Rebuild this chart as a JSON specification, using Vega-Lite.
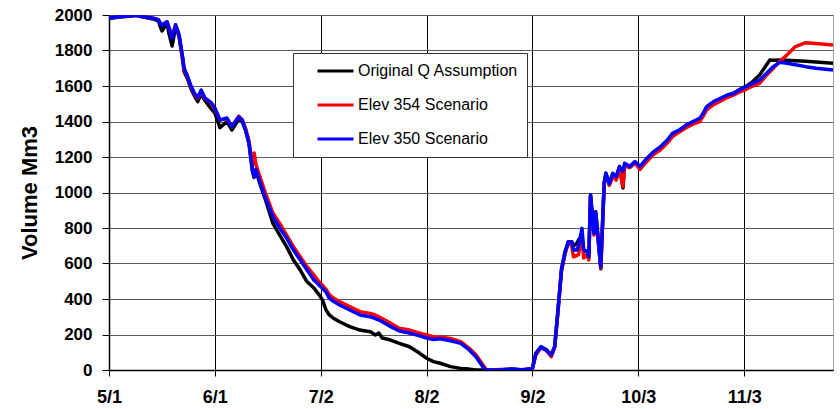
{
  "$schema": "https://vega.github.io/schema/vega-lite/v6.json",
  "width": 724,
  "height": 355,
  "autosize": "none",
  "padding": {"left": 109, "top": 15, "right": 7, "bottom": 39},
  "background": "white",
  "config": {
    "font": "Liberation Sans",
    "view": {"stroke": "#a6a6a6", "strokeWidth": 1},
    "axis": {"labelFont": "Liberation Sans", "titleFont": "Liberation Sans", "labelColor": "#000", "titleColor": "#000", "domainColor": "#000", "tickColor": "#000"}
  },
  "data": {
    "values": [
      {"date": "2005-05-01T00:00Z", "Original Q Assumption": 1980, "Elev 354 Scenario": 1985, "Elev 350 Scenario": 1985},
      {"date": "2005-05-04T00:00Z", "Original Q Assumption": 1988, "Elev 354 Scenario": 1990, "Elev 350 Scenario": 1990},
      {"date": "2005-05-07T00:00Z", "Original Q Assumption": 1993, "Elev 354 Scenario": 1995, "Elev 350 Scenario": 1995},
      {"date": "2005-05-09T00:00Z", "Original Q Assumption": 1998, "Elev 354 Scenario": 1998, "Elev 350 Scenario": 1998},
      {"date": "2005-05-11T00:00Z", "Original Q Assumption": 1988, "Elev 354 Scenario": 1990, "Elev 350 Scenario": 1990},
      {"date": "2005-05-14T00:00Z", "Original Q Assumption": 1978, "Elev 354 Scenario": 1982, "Elev 350 Scenario": 1982},
      {"date": "2005-05-15T12:00Z", "Original Q Assumption": 1965, "Elev 354 Scenario": 1972, "Elev 350 Scenario": 1972},
      {"date": "2005-05-16T00:00Z", "Original Q Assumption": 1935, "Elev 354 Scenario": 1955, "Elev 350 Scenario": 1955},
      {"date": "2005-05-16T12:00Z", "Original Q Assumption": 1910, "Elev 354 Scenario": 1945, "Elev 350 Scenario": 1940},
      {"date": "2005-05-18T00:00Z", "Original Q Assumption": 1955, "Elev 354 Scenario": 1962, "Elev 350 Scenario": 1962},
      {"date": "2005-05-18T12:00Z", "Original Q Assumption": 1900, "Elev 354 Scenario": 1935, "Elev 350 Scenario": 1930},
      {"date": "2005-05-19T12:00Z", "Original Q Assumption": 1825, "Elev 354 Scenario": 1880, "Elev 350 Scenario": 1870},
      {"date": "2005-05-20T12:00Z", "Original Q Assumption": 1935, "Elev 354 Scenario": 1945, "Elev 350 Scenario": 1945},
      {"date": "2005-05-21T12:00Z", "Original Q Assumption": 1880, "Elev 354 Scenario": 1887, "Elev 350 Scenario": 1890},
      {"date": "2005-05-22T12:00Z", "Original Q Assumption": 1755, "Elev 354 Scenario": 1765, "Elev 350 Scenario": 1770},
      {"date": "2005-05-23T00:00Z", "Original Q Assumption": 1680, "Elev 354 Scenario": 1690, "Elev 350 Scenario": 1700},
      {"date": "2005-05-24T00:00Z", "Original Q Assumption": 1640, "Elev 354 Scenario": 1650, "Elev 350 Scenario": 1655},
      {"date": "2005-05-25T00:00Z", "Original Q Assumption": 1585, "Elev 354 Scenario": 1596, "Elev 350 Scenario": 1600},
      {"date": "2005-05-26T00:00Z", "Original Q Assumption": 1545, "Elev 354 Scenario": 1555, "Elev 350 Scenario": 1560},
      {"date": "2005-05-27T00:00Z", "Original Q Assumption": 1512, "Elev 354 Scenario": 1531, "Elev 350 Scenario": 1535},
      {"date": "2005-05-28T00:00Z", "Original Q Assumption": 1555, "Elev 354 Scenario": 1570, "Elev 350 Scenario": 1577},
      {"date": "2005-05-29T00:00Z", "Original Q Assumption": 1520, "Elev 354 Scenario": 1532, "Elev 350 Scenario": 1535},
      {"date": "2005-05-31T00:00Z", "Original Q Assumption": 1470, "Elev 354 Scenario": 1500, "Elev 350 Scenario": 1505},
      {"date": "2005-06-01T00:00Z", "Original Q Assumption": 1448, "Elev 354 Scenario": 1470, "Elev 350 Scenario": 1476},
      {"date": "2005-06-02T12:00Z", "Original Q Assumption": 1365, "Elev 354 Scenario": 1410, "Elev 350 Scenario": 1408},
      {"date": "2005-06-04T12:00Z", "Original Q Assumption": 1400, "Elev 354 Scenario": 1415, "Elev 350 Scenario": 1420},
      {"date": "2005-06-06T00:00Z", "Original Q Assumption": 1352, "Elev 354 Scenario": 1375, "Elev 350 Scenario": 1370},
      {"date": "2005-06-08T00:00Z", "Original Q Assumption": 1415, "Elev 354 Scenario": 1430, "Elev 350 Scenario": 1425},
      {"date": "2005-06-09T00:00Z", "Original Q Assumption": 1400, "Elev 354 Scenario": 1410, "Elev 350 Scenario": 1408},
      {"date": "2005-06-10T00:00Z", "Original Q Assumption": 1350, "Elev 354 Scenario": 1360, "Elev 350 Scenario": 1352},
      {"date": "2005-06-11T00:00Z", "Original Q Assumption": 1275, "Elev 354 Scenario": 1290, "Elev 350 Scenario": 1278},
      {"date": "2005-06-12T00:00Z", "Original Q Assumption": 1120, "Elev 354 Scenario": 1150, "Elev 350 Scenario": 1127},
      {"date": "2005-06-12T12:00Z", "Original Q Assumption": 1085, "Elev 354 Scenario": 1222, "Elev 350 Scenario": 1088},
      {"date": "2005-06-13T00:00Z", "Original Q Assumption": 1125, "Elev 354 Scenario": 1160, "Elev 350 Scenario": 1130},
      {"date": "2005-06-14T00:00Z", "Original Q Assumption": 1060, "Elev 354 Scenario": 1100, "Elev 350 Scenario": 1070},
      {"date": "2005-06-16T00:00Z", "Original Q Assumption": 948, "Elev 354 Scenario": 986, "Elev 350 Scenario": 958},
      {"date": "2005-06-18T00:00Z", "Original Q Assumption": 826, "Elev 354 Scenario": 884, "Elev 350 Scenario": 864},
      {"date": "2005-06-20T00:00Z", "Original Q Assumption": 760, "Elev 354 Scenario": 826, "Elev 350 Scenario": 800},
      {"date": "2005-06-22T00:00Z", "Original Q Assumption": 695, "Elev 354 Scenario": 760, "Elev 350 Scenario": 743},
      {"date": "2005-06-24T00:00Z", "Original Q Assumption": 620, "Elev 354 Scenario": 695, "Elev 350 Scenario": 676},
      {"date": "2005-06-26T00:00Z", "Original Q Assumption": 563, "Elev 354 Scenario": 638, "Elev 350 Scenario": 620},
      {"date": "2005-06-28T00:00Z", "Original Q Assumption": 497, "Elev 354 Scenario": 582, "Elev 350 Scenario": 563},
      {"date": "2005-06-30T00:00Z", "Original Q Assumption": 462, "Elev 354 Scenario": 535, "Elev 350 Scenario": 507},
      {"date": "2005-07-01T12:00Z", "Original Q Assumption": 425, "Elev 354 Scenario": 497, "Elev 350 Scenario": 479},
      {"date": "2005-07-02T12:00Z", "Original Q Assumption": 395, "Elev 354 Scenario": 479, "Elev 350 Scenario": 460},
      {"date": "2005-07-03T12:00Z", "Original Q Assumption": 340, "Elev 354 Scenario": 455, "Elev 350 Scenario": 440},
      {"date": "2005-07-04T12:00Z", "Original Q Assumption": 310, "Elev 354 Scenario": 425, "Elev 350 Scenario": 405},
      {"date": "2005-07-05T12:00Z", "Original Q Assumption": 295, "Elev 354 Scenario": 408, "Elev 350 Scenario": 390},
      {"date": "2005-07-07T12:00Z", "Original Q Assumption": 272, "Elev 354 Scenario": 385, "Elev 350 Scenario": 366},
      {"date": "2005-07-10T12:00Z", "Original Q Assumption": 244, "Elev 354 Scenario": 357, "Elev 350 Scenario": 338},
      {"date": "2005-07-13T12:00Z", "Original Q Assumption": 225, "Elev 354 Scenario": 329, "Elev 350 Scenario": 310},
      {"date": "2005-07-16T12:00Z", "Original Q Assumption": 216, "Elev 354 Scenario": 319, "Elev 350 Scenario": 300},
      {"date": "2005-07-18T00:00Z", "Original Q Assumption": 197, "Elev 354 Scenario": 310, "Elev 350 Scenario": 290},
      {"date": "2005-07-19T00:00Z", "Original Q Assumption": 208, "Elev 354 Scenario": 300, "Elev 350 Scenario": 282},
      {"date": "2005-07-20T00:00Z", "Original Q Assumption": 180, "Elev 354 Scenario": 290, "Elev 350 Scenario": 272},
      {"date": "2005-07-22T12:00Z", "Original Q Assumption": 169, "Elev 354 Scenario": 263, "Elev 350 Scenario": 244},
      {"date": "2005-07-25T00:00Z", "Original Q Assumption": 150, "Elev 354 Scenario": 235, "Elev 350 Scenario": 220},
      {"date": "2005-07-28T00:00Z", "Original Q Assumption": 131, "Elev 354 Scenario": 225, "Elev 350 Scenario": 208},
      {"date": "2005-07-31T00:00Z", "Original Q Assumption": 94, "Elev 354 Scenario": 207, "Elev 350 Scenario": 192},
      {"date": "2005-08-02T00:00Z", "Original Q Assumption": 66, "Elev 354 Scenario": 197, "Elev 350 Scenario": 180},
      {"date": "2005-08-04T00:00Z", "Original Q Assumption": 47, "Elev 354 Scenario": 188, "Elev 350 Scenario": 172},
      {"date": "2005-08-06T00:00Z", "Original Q Assumption": 38, "Elev 354 Scenario": 186, "Elev 350 Scenario": 176},
      {"date": "2005-08-09T00:00Z", "Original Q Assumption": 19, "Elev 354 Scenario": 178, "Elev 350 Scenario": 165},
      {"date": "2005-08-12T00:00Z", "Original Q Assumption": 9, "Elev 354 Scenario": 160, "Elev 350 Scenario": 150},
      {"date": "2005-08-14T12:00Z", "Original Q Assumption": 5, "Elev 354 Scenario": 122, "Elev 350 Scenario": 113},
      {"date": "2005-08-16T12:00Z", "Original Q Assumption": 0, "Elev 354 Scenario": 85, "Elev 350 Scenario": 73},
      {"date": "2005-08-18T12:00Z", "Original Q Assumption": 0, "Elev 354 Scenario": 28, "Elev 350 Scenario": 17},
      {"date": "2005-08-19T12:00Z", "Original Q Assumption": 0, "Elev 354 Scenario": 0, "Elev 350 Scenario": 0},
      {"date": "2005-08-24T00:00Z", "Original Q Assumption": 2, "Elev 354 Scenario": 3, "Elev 350 Scenario": 2},
      {"date": "2005-08-27T00:00Z", "Original Q Assumption": 5, "Elev 354 Scenario": 2, "Elev 350 Scenario": 5},
      {"date": "2005-08-30T00:00Z", "Original Q Assumption": 0, "Elev 354 Scenario": 2, "Elev 350 Scenario": 2},
      {"date": "2005-09-01T00:00Z", "Original Q Assumption": 5, "Elev 354 Scenario": 5, "Elev 350 Scenario": 5},
      {"date": "2005-09-02T00:00Z", "Original Q Assumption": 10, "Elev 354 Scenario": 10, "Elev 350 Scenario": 10},
      {"date": "2005-09-03T00:00Z", "Original Q Assumption": 94, "Elev 354 Scenario": 85, "Elev 350 Scenario": 94},
      {"date": "2005-09-04T12:00Z", "Original Q Assumption": 131, "Elev 354 Scenario": 125, "Elev 350 Scenario": 131},
      {"date": "2005-09-06T00:00Z", "Original Q Assumption": 115, "Elev 354 Scenario": 110, "Elev 350 Scenario": 113},
      {"date": "2005-09-07T12:00Z", "Original Q Assumption": 85, "Elev 354 Scenario": 75, "Elev 350 Scenario": 85},
      {"date": "2005-09-08T12:00Z", "Original Q Assumption": 131, "Elev 354 Scenario": 125, "Elev 350 Scenario": 131},
      {"date": "2005-09-09T12:00Z", "Original Q Assumption": 345, "Elev 354 Scenario": 338, "Elev 350 Scenario": 338},
      {"date": "2005-09-10T12:00Z", "Original Q Assumption": 570, "Elev 354 Scenario": 560, "Elev 350 Scenario": 563},
      {"date": "2005-09-11T12:00Z", "Original Q Assumption": 665, "Elev 354 Scenario": 650, "Elev 350 Scenario": 657},
      {"date": "2005-09-12T12:00Z", "Original Q Assumption": 723, "Elev 354 Scenario": 720, "Elev 350 Scenario": 723},
      {"date": "2005-09-13T12:00Z", "Original Q Assumption": 723, "Elev 354 Scenario": 700, "Elev 350 Scenario": 723},
      {"date": "2005-09-14T00:00Z", "Original Q Assumption": 700, "Elev 354 Scenario": 638, "Elev 350 Scenario": 676},
      {"date": "2005-09-15T00:00Z", "Original Q Assumption": 714, "Elev 354 Scenario": 645, "Elev 350 Scenario": 676},
      {"date": "2005-09-15T12:00Z", "Original Q Assumption": 732, "Elev 354 Scenario": 650, "Elev 350 Scenario": 700},
      {"date": "2005-09-16T12:00Z", "Original Q Assumption": 760, "Elev 354 Scenario": 760, "Elev 350 Scenario": 798},
      {"date": "2005-09-17T00:00Z", "Original Q Assumption": 676, "Elev 354 Scenario": 631, "Elev 350 Scenario": 676},
      {"date": "2005-09-18T00:00Z", "Original Q Assumption": 667, "Elev 354 Scenario": 650, "Elev 350 Scenario": 667},
      {"date": "2005-09-18T12:00Z", "Original Q Assumption": 638, "Elev 354 Scenario": 620, "Elev 350 Scenario": 638},
      {"date": "2005-09-19T00:00Z", "Original Q Assumption": 986, "Elev 354 Scenario": 980, "Elev 350 Scenario": 986},
      {"date": "2005-09-20T00:00Z", "Original Q Assumption": 770, "Elev 354 Scenario": 760, "Elev 350 Scenario": 770},
      {"date": "2005-09-20T12:00Z", "Original Q Assumption": 892, "Elev 354 Scenario": 880, "Elev 350 Scenario": 892},
      {"date": "2005-09-21T00:00Z", "Original Q Assumption": 789, "Elev 354 Scenario": 780, "Elev 350 Scenario": 789},
      {"date": "2005-09-22T00:00Z", "Original Q Assumption": 570, "Elev 354 Scenario": 575, "Elev 350 Scenario": 582},
      {"date": "2005-09-23T00:00Z", "Original Q Assumption": 1052, "Elev 354 Scenario": 1050, "Elev 350 Scenario": 1052},
      {"date": "2005-09-23T12:00Z", "Original Q Assumption": 1108, "Elev 354 Scenario": 1100, "Elev 350 Scenario": 1108},
      {"date": "2005-09-24T12:00Z", "Original Q Assumption": 1045, "Elev 354 Scenario": 1040, "Elev 350 Scenario": 1050},
      {"date": "2005-09-25T12:00Z", "Original Q Assumption": 1100, "Elev 354 Scenario": 1090, "Elev 350 Scenario": 1108},
      {"date": "2005-09-26T12:00Z", "Original Q Assumption": 1089, "Elev 354 Scenario": 1070, "Elev 350 Scenario": 1089},
      {"date": "2005-09-27T12:00Z", "Original Q Assumption": 1146, "Elev 354 Scenario": 1130, "Elev 350 Scenario": 1146},
      {"date": "2005-09-28T12:00Z", "Original Q Assumption": 1025, "Elev 354 Scenario": 1033, "Elev 350 Scenario": 1120},
      {"date": "2005-09-29T00:00Z", "Original Q Assumption": 1164, "Elev 354 Scenario": 1150, "Elev 350 Scenario": 1164},
      {"date": "2005-09-30T12:00Z", "Original Q Assumption": 1146, "Elev 354 Scenario": 1140, "Elev 350 Scenario": 1146},
      {"date": "2005-10-02T00:00Z", "Original Q Assumption": 1170, "Elev 354 Scenario": 1165, "Elev 350 Scenario": 1174},
      {"date": "2005-10-03T12:00Z", "Original Q Assumption": 1146, "Elev 354 Scenario": 1130, "Elev 350 Scenario": 1146},
      {"date": "2005-10-05T12:00Z", "Original Q Assumption": 1190, "Elev 354 Scenario": 1175, "Elev 350 Scenario": 1192},
      {"date": "2005-10-07T12:00Z", "Original Q Assumption": 1228, "Elev 354 Scenario": 1215, "Elev 350 Scenario": 1230},
      {"date": "2005-10-09T12:00Z", "Original Q Assumption": 1255, "Elev 354 Scenario": 1240, "Elev 350 Scenario": 1258},
      {"date": "2005-10-11T12:00Z", "Original Q Assumption": 1292, "Elev 354 Scenario": 1280, "Elev 350 Scenario": 1296},
      {"date": "2005-10-13T00:00Z", "Original Q Assumption": 1330, "Elev 354 Scenario": 1315, "Elev 350 Scenario": 1333},
      {"date": "2005-10-15T00:00Z", "Original Q Assumption": 1350, "Elev 354 Scenario": 1340, "Elev 350 Scenario": 1352},
      {"date": "2005-10-17T00:00Z", "Original Q Assumption": 1378, "Elev 354 Scenario": 1365, "Elev 350 Scenario": 1380},
      {"date": "2005-10-19T00:00Z", "Original Q Assumption": 1397, "Elev 354 Scenario": 1385, "Elev 350 Scenario": 1399},
      {"date": "2005-10-21T00:00Z", "Original Q Assumption": 1415, "Elev 354 Scenario": 1400, "Elev 350 Scenario": 1418},
      {"date": "2005-10-22T00:00Z", "Original Q Assumption": 1443, "Elev 354 Scenario": 1430, "Elev 350 Scenario": 1446},
      {"date": "2005-10-23T00:00Z", "Original Q Assumption": 1480, "Elev 354 Scenario": 1465, "Elev 350 Scenario": 1484},
      {"date": "2005-10-25T00:00Z", "Original Q Assumption": 1508, "Elev 354 Scenario": 1495, "Elev 350 Scenario": 1512},
      {"date": "2005-10-27T00:00Z", "Original Q Assumption": 1527, "Elev 354 Scenario": 1515, "Elev 350 Scenario": 1530},
      {"date": "2005-10-29T00:00Z", "Original Q Assumption": 1545, "Elev 354 Scenario": 1535, "Elev 350 Scenario": 1549},
      {"date": "2005-10-31T00:00Z", "Original Q Assumption": 1560, "Elev 354 Scenario": 1550, "Elev 350 Scenario": 1559},
      {"date": "2005-11-01T12:00Z", "Original Q Assumption": 1578, "Elev 354 Scenario": 1565, "Elev 350 Scenario": 1577},
      {"date": "2005-11-03T12:00Z", "Original Q Assumption": 1598, "Elev 354 Scenario": 1580, "Elev 350 Scenario": 1596},
      {"date": "2005-11-05T12:00Z", "Original Q Assumption": 1625, "Elev 354 Scenario": 1600, "Elev 350 Scenario": 1615},
      {"date": "2005-11-07T12:00Z", "Original Q Assumption": 1662, "Elev 354 Scenario": 1615, "Elev 350 Scenario": 1634},
      {"date": "2005-11-09T12:00Z", "Original Q Assumption": 1718, "Elev 354 Scenario": 1660, "Elev 350 Scenario": 1670},
      {"date": "2005-11-10T12:00Z", "Original Q Assumption": 1746, "Elev 354 Scenario": 1680, "Elev 350 Scenario": 1690},
      {"date": "2005-11-11T12:00Z", "Original Q Assumption": 1745, "Elev 354 Scenario": 1700, "Elev 350 Scenario": 1709},
      {"date": "2005-11-13T12:00Z", "Original Q Assumption": 1746, "Elev 354 Scenario": 1740, "Elev 350 Scenario": 1734},
      {"date": "2005-11-15T12:00Z", "Original Q Assumption": 1745, "Elev 354 Scenario": 1775, "Elev 350 Scenario": 1728},
      {"date": "2005-11-18T00:00Z", "Original Q Assumption": 1742, "Elev 354 Scenario": 1822, "Elev 350 Scenario": 1720},
      {"date": "2005-11-21T00:00Z", "Original Q Assumption": 1739, "Elev 354 Scenario": 1844, "Elev 350 Scenario": 1709},
      {"date": "2005-11-24T00:00Z", "Original Q Assumption": 1735, "Elev 354 Scenario": 1840, "Elev 350 Scenario": 1700},
      {"date": "2005-11-29T00:00Z", "Original Q Assumption": 1728, "Elev 354 Scenario": 1831, "Elev 350 Scenario": 1690}
    ]
  },
  "transform": [
    {"fold": ["Original Q Assumption", "Elev 354 Scenario", "Elev 350 Scenario"], "as": ["series", "volume"]}
  ],
  "mark": {"type": "line", "strokeWidth": 3.5, "strokeJoin": "round", "clip": true},
  "encoding": {
    "x": {
      "field": "date",
      "type": "temporal",
      "scale": {
        "type": "utc",
        "nice": false,
        "domain": [
          {"year": 2005, "month": 5, "date": 1, "utc": true},
          {"year": 2005, "month": 11, "date": 29, "utc": true}
        ]
      },
      "axis": {
        "title": null,
        "values": [
          {"year": 2005, "month": 5, "date": 1, "utc": true},
          {"year": 2005, "month": 6, "date": 1, "utc": true},
          {"year": 2005, "month": 7, "date": 2, "utc": true},
          {"year": 2005, "month": 8, "date": 2, "utc": true},
          {"year": 2005, "month": 9, "date": 2, "utc": true},
          {"year": 2005, "month": 10, "date": 3, "utc": true},
          {"year": 2005, "month": 11, "date": 3, "utc": true}
        ],
        "labelExpr": "utcFormat(datum.value, '%-m/%-d')",
        "labelFontSize": 18,
        "labelFontWeight": "bold",
        "labelPadding": 12,
        "tickSize": 6,
        "grid": true,
        "gridColor": "#000000",
        "gridWidth": 1,
        "gridOpacity": 1,
        "domainWidth": 1.5,
        "labelFlush": false,
        "labelOverlap": false
      }
    },
    "y": {
      "field": "volume",
      "type": "quantitative",
      "scale": {"domain": [0, 2000], "nice": false},
      "axis": {
        "title": "Volume Mm3",
        "titleFontSize": 22,
        "titleFontWeight": "bold",
        "titlePadding": 13,
        "values": [0, 200, 400, 600, 800, 1000, 1200, 1400, 1600, 1800, 2000],
        "format": "d",
        "labelFontSize": 17,
        "labelFontWeight": "bold",
        "labelPadding": 10,
        "tickSize": 7,
        "grid": true,
        "gridColor": "#5a5a5a",
        "gridWidth": 1,
        "gridOpacity": 1,
        "domainWidth": 1.5,
        "labelFlush": false,
        "labelOverlap": false
      }
    },
    "color": {
      "field": "series",
      "type": "nominal",
      "scale": {
        "domain": ["Original Q Assumption", "Elev 354 Scenario", "Elev 350 Scenario"],
        "range": ["#000000", "#ff0000", "#0000ff"]
      },
      "legend": {
        "title": null,
        "orient": "none",
        "legendX": 184,
        "legendY": 38,
        "fillColor": "#ffffff",
        "strokeColor": "#333333",
        "padding": 8,
        "symbolType": "stroke",
        "symbolSize": 1296,
        "symbolStrokeWidth": 3,
        "symbolOffset": 15,
        "labelOffset": 3,
        "labelFont": "Liberation Sans",
        "labelFontSize": 16,
        "labelLimit": 400,
        "labelColor": "#000000",
        "clipHeight": 20,
        "rowPadding": 14
      }
    }
  }
}
